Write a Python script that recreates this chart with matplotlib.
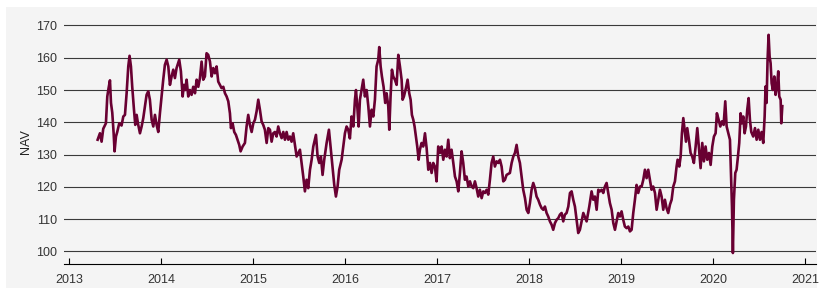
import matplotlib
matplotlib.use("Agg")
import matplotlib.pyplot as plt
from matplotlib.patches import Rectangle

plt.rcParams['font.family'] = ['Liberation Sans', 'DejaVu Sans']

# fecha en años decimales, valor del NAV
years = [
    2013.312, 2013.337, 2013.355, 2013.373, 2013.402, 2013.417, 2013.431, 2013.446, 2013.457, 2013.471,
    2013.486, 2013.496, 2013.511, 2013.525, 2013.547, 2013.572, 2013.591, 2013.609, 2013.627, 2013.645,
    2013.659, 2013.674, 2013.688, 2013.707, 2013.721, 2013.736, 2013.750, 2013.772, 2013.790, 2013.808,
    2013.826, 2013.844, 2013.862, 2013.880, 2013.899, 2013.917, 2013.935, 2013.953, 2013.971, 2013.989,
    2014.007, 2014.025, 2014.043, 2014.062, 2014.080, 2014.098, 2014.116, 2014.134, 2014.152, 2014.170,
    2014.199, 2014.217, 2014.236, 2014.250, 2014.264, 2014.279, 2014.297, 2014.315, 2014.333, 2014.351,
    2014.370, 2014.388, 2014.406, 2014.424, 2014.442, 2014.460, 2014.478, 2014.496, 2014.514, 2014.533,
    2014.551, 2014.569, 2014.587, 2014.605, 2014.623, 2014.641, 2014.659, 2014.678, 2014.696, 2014.714,
    2014.732, 2014.750, 2014.761, 2014.779, 2014.797, 2014.815, 2014.833, 2014.851, 2014.866, 2014.888,
    2014.913, 2014.931, 2014.949, 2014.967, 2014.986, 2015.004, 2015.022, 2015.040, 2015.058, 2015.076,
    2015.094, 2015.112, 2015.130, 2015.149, 2015.167, 2015.185, 2015.203, 2015.221, 2015.239, 2015.257,
    2015.275, 2015.293, 2015.312, 2015.330, 2015.348, 2015.366, 2015.384, 2015.402, 2015.420, 2015.438,
    2015.475, 2015.511, 2015.547, 2015.565, 2015.583, 2015.601, 2015.620, 2015.638, 2015.656, 2015.685,
    2015.703, 2015.721, 2015.739, 2015.757, 2015.775, 2015.801, 2015.826, 2015.844, 2015.866, 2015.884,
    2015.902, 2015.920, 2015.938, 2015.964, 2015.982, 2016.000, 2016.018, 2016.036, 2016.054, 2016.072,
    2016.091, 2016.109, 2016.120, 2016.134, 2016.149, 2016.163, 2016.181, 2016.199, 2016.217, 2016.236,
    2016.254, 2016.272, 2016.290, 2016.308, 2016.326, 2016.344, 2016.362, 2016.373, 2016.388, 2016.402,
    2016.420, 2016.438, 2016.453, 2016.471, 2016.482, 2016.496, 2016.511, 2016.525, 2016.543, 2016.562,
    2016.580, 2016.598, 2016.616, 2016.627, 2016.641, 2016.663, 2016.681, 2016.699, 2016.714, 2016.728,
    2016.743, 2016.757, 2016.772, 2016.786, 2016.801, 2016.815, 2016.833, 2016.851, 2016.870, 2016.888,
    2016.906, 2016.924, 2016.942, 2016.960, 2016.978, 2016.996, 2017.014, 2017.033, 2017.051, 2017.069,
    2017.087, 2017.105, 2017.123, 2017.141, 2017.159, 2017.178, 2017.196, 2017.214, 2017.232, 2017.250,
    2017.268, 2017.286, 2017.304, 2017.322, 2017.341, 2017.359, 2017.377, 2017.395, 2017.413, 2017.431,
    2017.449, 2017.467, 2017.486, 2017.504, 2017.522, 2017.540, 2017.558, 2017.576, 2017.594, 2017.612,
    2017.630, 2017.649, 2017.667, 2017.685, 2017.703, 2017.721, 2017.739, 2017.757, 2017.793, 2017.812,
    2017.830, 2017.848, 2017.866, 2017.884, 2017.902, 2017.920, 2017.938, 2017.957, 2017.975, 2017.993,
    2018.011, 2018.029, 2018.047, 2018.065, 2018.083, 2018.101, 2018.120, 2018.138, 2018.156, 2018.174,
    2018.192, 2018.210, 2018.228, 2018.246, 2018.264, 2018.283, 2018.301, 2018.319, 2018.337, 2018.355,
    2018.373, 2018.391, 2018.409, 2018.428, 2018.446, 2018.464, 2018.482, 2018.500, 2018.518, 2018.536,
    2018.554, 2018.591, 2018.627, 2018.656, 2018.681, 2018.699, 2018.717, 2018.736, 2018.754, 2018.772,
    2018.790, 2018.808, 2018.826, 2018.844, 2018.862, 2018.880, 2018.899, 2018.917, 2018.935, 2018.953,
    2018.971, 2018.989, 2019.007, 2019.025, 2019.043, 2019.062, 2019.080, 2019.098, 2019.116, 2019.134,
    2019.152, 2019.170, 2019.188, 2019.207, 2019.225, 2019.243, 2019.261, 2019.279, 2019.297, 2019.315,
    2019.333, 2019.351, 2019.370, 2019.388, 2019.406, 2019.424, 2019.442, 2019.460, 2019.478, 2019.496,
    2019.514, 2019.533, 2019.551, 2019.569, 2019.587, 2019.605, 2019.616, 2019.634, 2019.649, 2019.663,
    2019.678, 2019.692, 2019.707, 2019.721, 2019.739, 2019.757, 2019.775, 2019.793, 2019.812, 2019.830,
    2019.848, 2019.866, 2019.884, 2019.902, 2019.920, 2019.938, 2019.957, 2019.975, 2019.993, 2020.011,
    2020.029, 2020.043, 2020.062, 2020.080, 2020.098, 2020.116, 2020.134, 2020.149, 2020.167, 2020.185,
    2020.196, 2020.207, 2020.217, 2020.228, 2020.243, 2020.257, 2020.272, 2020.286, 2020.301, 2020.315,
    2020.330, 2020.344, 2020.359, 2020.373, 2020.388, 2020.402, 2020.417, 2020.438, 2020.457, 2020.475,
    2020.493, 2020.511, 2020.529, 2020.547, 2020.562, 2020.572, 2020.583, 2020.594, 2020.605, 2020.616,
    2020.627, 2020.638, 2020.652, 2020.667, 2020.681, 2020.696, 2020.710, 2020.721, 2020.736, 2020.743,
    2020.754,
]

nav = [
    134.6, 136.6, 134.0, 138.0, 139.7, 148.0, 150.6, 153.0, 146.0, 143.0,
    136.6, 131.0, 135.6, 137.0, 139.7, 139.0, 141.8, 142.3, 149.0, 157.3,
    160.6, 157.3, 151.0, 143.9, 139.2, 142.3, 139.7, 136.6, 138.7, 141.3,
    145.0, 148.5, 149.6, 147.0, 140.8, 138.7, 142.3, 139.2, 137.0, 142.8,
    148.0, 153.2, 157.8, 159.4, 157.3, 151.6, 154.2, 156.3, 153.7, 156.8,
    159.4, 155.8, 148.0, 151.6, 150.0, 153.2, 148.0, 150.0, 148.5, 151.0,
    149.0, 153.2, 151.0, 153.7, 158.8, 153.2, 154.2, 161.4, 160.9, 158.8,
    154.2, 156.8, 155.2, 157.3, 152.6, 151.6, 150.6, 151.0, 149.0, 148.0,
    146.5, 142.8, 138.2, 139.7, 137.0, 136.1, 134.6, 133.0, 131.0, 132.5,
    133.6, 138.7, 142.3, 139.2, 137.0, 139.7, 140.8, 143.4, 147.0, 143.9,
    140.3, 139.2, 137.7, 133.6, 138.2, 137.7, 134.0, 136.6, 137.0, 135.6,
    138.7, 136.6, 135.1, 137.0, 134.6, 137.0, 134.6, 135.6, 134.0, 136.6,
    129.4, 131.5, 123.2, 118.6, 122.2, 119.6, 125.3, 128.4, 132.5, 136.1,
    129.4, 127.4, 129.4, 123.7, 128.4, 133.6, 137.7, 132.5, 126.3, 120.6,
    117.0, 120.1, 125.3, 128.4, 132.5, 136.6, 138.7, 137.7, 135.0, 141.8,
    138.7, 147.0, 150.0, 145.0, 138.7, 147.0, 150.0, 153.2, 148.0, 150.0,
    145.0, 138.7, 143.9, 141.8, 147.0, 157.3, 159.4, 163.3, 157.3, 154.2,
    151.0, 146.0, 149.0, 145.0, 137.7, 148.0, 156.3, 154.2, 153.2, 151.6,
    160.9, 157.3, 153.2, 147.0, 148.0, 150.6, 153.2, 149.0, 147.0, 142.3,
    140.8, 138.7, 135.6, 132.5, 128.4, 131.5, 133.6, 132.5, 136.6, 132.0,
    125.3, 127.4, 124.3, 127.4, 126.3, 121.7, 132.5, 130.5, 132.5, 128.4,
    131.5, 129.4, 134.6, 128.9, 131.5, 127.4, 123.2, 121.7, 118.6, 124.3,
    131.0, 127.4, 122.2, 123.2, 120.1, 121.7, 120.1, 119.6, 121.7, 119.6,
    117.0, 119.1, 116.5, 118.6, 118.1, 119.1, 117.6, 122.2, 127.4, 129.4,
    126.3, 127.9, 127.4, 128.4, 126.3, 121.7, 122.2, 123.7, 124.3, 127.4,
    129.4, 130.5, 133.0, 129.4, 127.4, 123.2, 119.1, 116.5, 112.9, 111.9,
    115.0, 119.1, 121.2, 119.6, 117.0, 116.0, 114.5, 113.4, 112.9, 113.9,
    111.9, 110.8, 109.3, 108.3, 106.7, 108.8, 109.8, 110.3, 111.4, 111.9,
    109.3, 111.4, 111.9, 113.9, 118.1, 118.6, 116.0, 113.9, 109.8, 105.7,
    106.7, 111.9, 109.3, 113.9, 118.6, 116.0, 117.0, 112.9, 119.1, 118.6,
    119.1, 118.1, 120.1, 121.2, 118.1, 115.0, 112.9, 108.8, 106.7, 109.3,
    111.9, 110.8, 112.4, 109.8, 107.7, 107.2, 107.7, 106.2, 106.7, 111.9,
    116.0, 120.6, 118.1, 120.1, 120.1, 122.2, 125.3, 122.7, 125.3, 122.2,
    119.1, 120.1, 118.1, 112.9, 116.0, 119.1, 117.0, 112.9, 116.0, 113.4,
    111.9, 114.5, 116.0, 120.1, 121.7, 126.3, 128.4, 126.3, 129.4, 136.6,
    141.3, 137.7, 134.0, 138.2, 134.6, 130.5, 129.4, 127.4, 132.5, 138.2,
    132.0, 125.8, 133.6, 127.9, 132.5, 128.4, 130.5, 126.8, 132.5, 135.6,
    136.6, 142.8, 140.8, 138.7, 140.3, 139.2, 146.5, 138.7, 136.6, 134.6,
    124.3, 113.9, 99.5, 116.0, 124.3, 125.3, 129.4, 133.6, 142.8, 139.7,
    141.8, 136.6, 138.7, 143.9, 147.5, 140.8, 137.0, 135.6, 138.2, 134.6,
    137.7, 134.6, 137.0, 133.6, 141.8, 151.1, 146.0, 159.4, 167.1, 160.4,
    158.3, 152.1, 150.0, 154.2, 148.5, 151.0, 155.8, 148.0, 147.0, 139.7,
    145.0,
]

year_ticks = [2013, 2014, 2015, 2016, 2017, 2018, 2019, 2020, 2021]
nav_ticks = [100, 110, 120, 130, 140, 150, 160, 170]

fig = plt.figure(figsize=(8.19, 2.90), dpi=100)
# panel gris de fondo, detras de los ejes
fig.patches.append(Rectangle((0.0073, 0.0069), 0.9903, 0.969, transform=fig.transFigure,
                             facecolor='#f4f4f4', edgecolor='none', zorder=-10))

ax = fig.add_axes([0.0781, 0.0897, 0.9182, 0.8414])
ax.set_facecolor('none')
ax.plot(years, nav, color='#690032', linewidth=1.9, zorder=3)

ax.set_xlim(2012.946, 2021.12)
ax.set_ylim(96.1, 171.7)
ax.set_xticks(year_ticks)
ax.set_xticklabels([str(y) for y in year_ticks])
ax.set_yticks(nav_ticks)

ax.set_axisbelow(True)
ax.yaxis.grid(True, color='#3a3a3a', linewidth=0.8)
for s in ['top', 'right', 'left']:
    ax.spines[s].set_visible(False)
ax.spines['bottom'].set_color('black')
ax.spines['bottom'].set_linewidth(0.8)

ax.tick_params(axis='x', direction='in', length=4.5, width=0.8, pad=7,
               labelsize=9, labelcolor='#333333')
ax.tick_params(axis='y', length=0, pad=5, labelsize=9, labelcolor='#333333')
ax.set_ylabel('NAV', fontsize=9, color='#222222', labelpad=3)

fig.savefig('out.png', dpi=100)
